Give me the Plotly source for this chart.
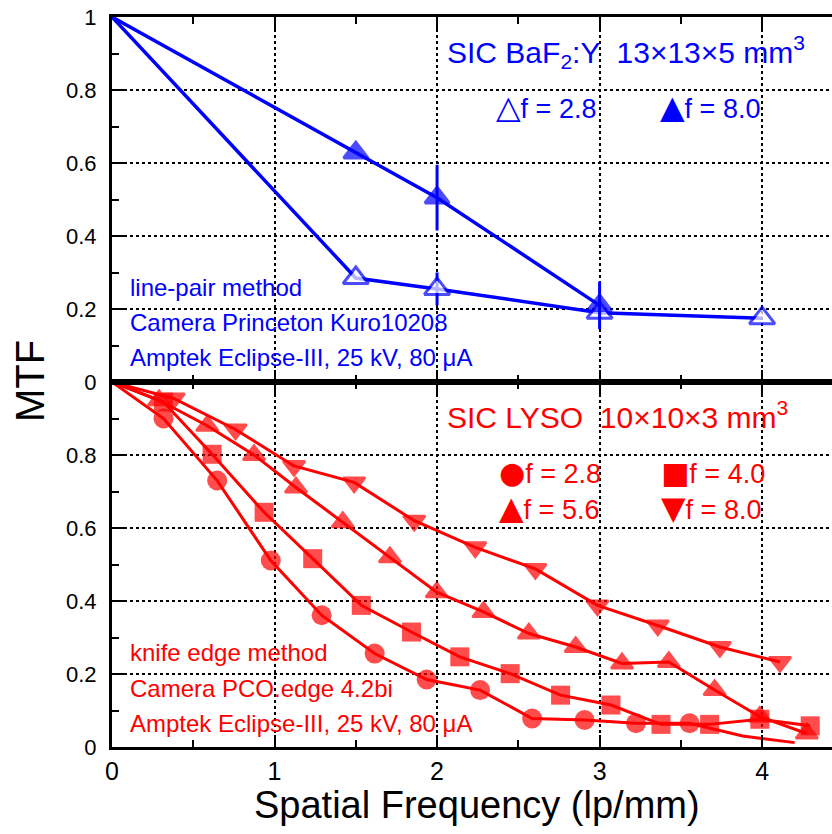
import plotly.graph_objects as go

# ---------------- data ----------------
# Top panel: SIC BaF2:Y, line-pair method
baf2_freq_f28 = [0, 1.5, 2.0, 3.0, 4.0]
baf2_mtf_f28 = [1.0, 0.285, 0.255, 0.19, 0.175]
baf2_err_f28 = [0, 0, 0.045, 0, 0]

baf2_freq_f80 = [0, 1.5, 2.0, 3.0]
baf2_mtf_f80 = [1.0, 0.628, 0.505, 0.21]
baf2_err_f80 = [0, 0, 0.09, 0.065]

# Bottom panel: SIC LYSO, knife edge method
lyso_freq_f28 = [0, 0.317, 0.647, 0.977, 1.29, 1.616, 1.936, 2.265, 2.585, 2.908, 3.224, 3.554, 3.88, 4.2]
lyso_mtf_f28 = [1.0, 0.90, 0.73, 0.511, 0.361, 0.256, 0.185, 0.156, 0.078, 0.074, 0.065, 0.065, 0.03, 0.012]
lyso_marker_f28 = [0, 1, 1, 1, 1, 1, 1, 1, 1, 1, 1, 1, 0, 0]

lyso_freq_f40 = [0, 0.317, 0.616, 0.936, 1.235, 1.534, 1.843, 2.14, 2.45, 2.76, 3.07, 3.378, 3.677, 3.986, 4.296]
lyso_mtf_f40 = [1.0, 0.945, 0.802, 0.643, 0.516, 0.388, 0.315, 0.247, 0.201, 0.142, 0.115, 0.062, 0.062, 0.076, 0.058]

lyso_freq_f56 = [0, 0.29, 0.586, 0.874, 1.132, 1.42, 1.71, 1.998, 2.286, 2.565, 2.853, 3.138, 3.426, 3.708, 3.986, 4.275]
lyso_mtf_f56 = [1.0, 0.95, 0.88, 0.80, 0.711, 0.616, 0.52, 0.424, 0.37, 0.311, 0.274, 0.229, 0.233, 0.156, 0.083, 0.037]

lyso_freq_f80 = [0, 0.38, 0.76, 1.12, 1.49, 1.86, 2.235, 2.605, 2.987, 3.358, 3.74, 4.11]
lyso_mtf_f80 = [1.0, 0.955, 0.87, 0.77, 0.725, 0.62, 0.547, 0.488, 0.388, 0.333, 0.274, 0.233]

x_ticks = [0, 1, 2, 3, 4]
y_ticks_top = [0, 0.2, 0.4, 0.6, 0.8, 1.0]
y_ticks_bottom = [0, 0.2, 0.4, 0.6, 0.8]

# ---------------- styles ----------------
BLUE = "#0000ff"
RED = "#ff0000"
FONT = "Liberation Sans, Arial, sans-serif"
W, H = 832, 834
ML, MR, MT, MB = 112, 0, 17, 87


def px(x):
    return (x - ML) / (W - ML - MR)


def py(y):
    return (H - MB - y) / (H - MT - MB)


def sizes(xs, base, flags=None):
    out = []
    for i, xv in enumerate(xs):
        show = xv != 0 and (flags is None or flags[i])
        out.append(base if show else 0)
    return out


fig = go.Figure()

# top panel
fig.add_trace(go.Scatter(
    x=baf2_freq_f28, y=baf2_mtf_f28, xaxis="x2", yaxis="y2", mode="lines+markers",
    line=dict(color=BLUE, width=3.5),
    marker=dict(symbol="triangle-up", size=sizes(baf2_freq_f28, 22), color="white",
                line=dict(color=BLUE, width=3)),
    error_y=dict(type="data", array=baf2_err_f28, color=BLUE, thickness=3, width=0),
    showlegend=False))
fig.add_trace(go.Scatter(
    x=baf2_freq_f80, y=baf2_mtf_f80, xaxis="x2", yaxis="y2", mode="lines+markers",
    line=dict(color=BLUE, width=3.5),
    marker=dict(symbol="triangle-up", size=sizes(baf2_freq_f80, 21), color=BLUE,
                line=dict(color=BLUE, width=3)),
    error_y=dict(type="data", array=baf2_err_f80, color=BLUE, thickness=3, width=0),
    showlegend=False))

# bottom panel
for xs, ys, sym, flags in [
    (lyso_freq_f28, lyso_mtf_f28, "circle", lyso_marker_f28),
    (lyso_freq_f40, lyso_mtf_f40, "square", None),
    (lyso_freq_f56, lyso_mtf_f56, "triangle-up", None),
    (lyso_freq_f80, lyso_mtf_f80, "triangle-down", None),
]:
    if sym == "circle":
        base, lw = 20, 0
    elif sym == "square":
        base, lw = 19, 0
    else:
        base, lw = 19, 2.5
    fig.add_trace(go.Scatter(
        x=xs, y=ys, xaxis="x", yaxis="y", mode="lines+markers",
        line=dict(color=RED, width=3),
        marker=dict(symbol=sym, size=sizes(xs, base, flags), color=RED,
                    line=dict(color=RED, width=lw)),
        showlegend=False))

axis_common = dict(
    showline=True, linewidth=3, linecolor="black",
    ticks="inside", ticklen=12, tickwidth=2, tickcolor="black",
    showgrid=True, gridcolor="black", griddash="dot", gridwidth=2,
    zeroline=False,
)
minor_x = dict(dtick=0.5, tick0=0, ticks="inside", ticklen=7, tickwidth=2,
               tickcolor="black", showgrid=False)
minor_y = dict(dtick=0.1, tick0=0, ticks="inside", ticklen=7, tickwidth=2,
               tickcolor="black", showgrid=False)

fig.update_layout(
    width=W, height=H,
    margin=dict(l=ML, r=MR, t=MT, b=MB),
    paper_bgcolor="white", plot_bgcolor="white",
    font=dict(family=FONT, color="black"),
    showlegend=False,
    xaxis=dict(domain=[0, 1], anchor="y", range=[0, 4.43], tickvals=x_ticks,
               mirror="allticks", tickfont=dict(size=25), minor=minor_x, **axis_common),
    xaxis2=dict(domain=[0, 1], anchor="y2", matches="x", range=[0, 4.43], tickvals=x_ticks,
                showticklabels=False, mirror="allticks", minor=minor_x, **axis_common),
    yaxis=dict(domain=[0, 0.5], anchor="x", range=[0, 1], tickvals=y_ticks_bottom,
               tickfont=dict(size=22), ticklabelstandoff=8, minor=minor_y, **axis_common),
    yaxis2=dict(domain=[0.5, 1], anchor="x2", range=[0, 1], tickvals=y_ticks_top,
                tickfont=dict(size=22), ticklabelstandoff=8, minor=minor_y, **axis_common),
)

ann = []


def add_text(text, x, y, size, color, xanchor="left", angle=0):
    ann.append(dict(text=text, x=px(x), y=py(y), xref="paper", yref="paper",
                    xanchor=xanchor, yanchor="middle", showarrow=False,
                    textangle=angle, font=dict(family=FONT, size=size, color=color)))


def glyph(g, size=30, family="DejaVu Sans"):
    return '<span style="font-family:%s;font-size:%dpx">%s</span>' % (family, size, g)


# axis titles
add_text("MTF", 30, 381, 40, "black", xanchor="center", angle=-90)
add_text("Spatial Frequency (lp/mm)", 477, 805, 38, "black", xanchor="center")

# top panel texts
add_text("SIC BaF<sub>2</sub>:Y  13×13×5 mm<sup>3</sup>", 445, 52, 30, BLUE)
add_text(glyph("<b>△</b>", 32) + "f = 2.8", 494, 107, 27, BLUE)
add_text(glyph("▲", 32) + "f = 8.0", 658, 107, 27, BLUE)
add_text("line-pair method", 128, 287, 24, BLUE)
add_text("Camera Princeton Kuro10208", 128, 322, 24, BLUE)
add_text("Amptek Eclipse-III, 25 kV, 80 μA", 128, 357, 24, BLUE)

# bottom panel texts
add_text("SIC LYSO  10×10×3 mm<sup>3</sup>", 445, 415, 30, RED)
add_text(glyph("●", 30) + "f = 2.8", 497, 472, 27, RED)
add_text(glyph("■", 30) + "f = 4.0", 659, 472, 27, RED)
add_text(glyph("▲", 32) + "f = 5.6", 497, 508, 27, RED)
add_text(glyph("▼", 32) + "f = 8.0", 659, 508, 27, RED)
add_text("knife edge method", 128, 652, 24, RED)
add_text("Camera PCO.edge 4.2bi", 128, 688, 24, RED)
add_text("Amptek Eclipse-III, 25 kV, 80 μA", 128, 723, 24, RED)

fig.update_layout(annotations=ann)

fig.write_html("out.html")
